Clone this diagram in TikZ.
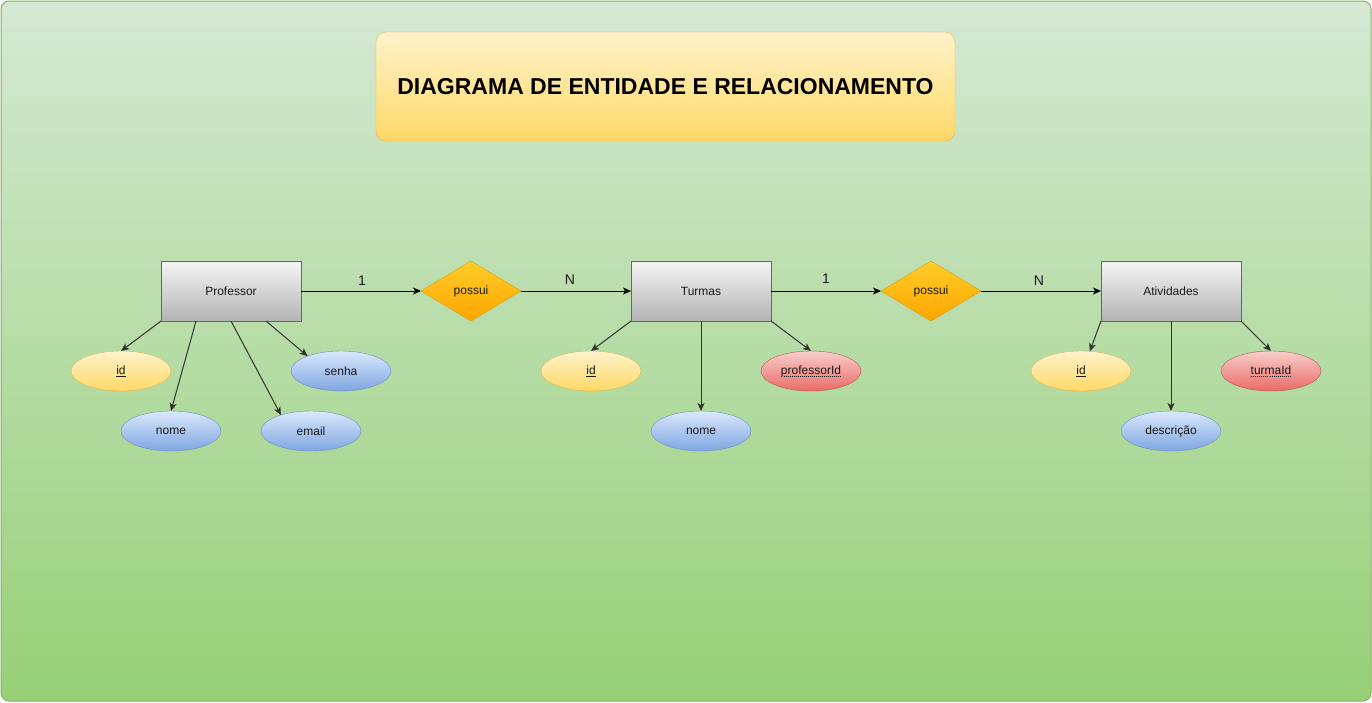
\documentclass[tikz,border=0pt]{standalone}
\usepackage{fontspec}
\setmainfont{Liberation Sans}
\usetikzlibrary{shapes.geometric,arrows.meta,calc}
\definecolor{bgtop}{HTML}{D5E8D4}
\definecolor{bgbot}{HTML}{97D077}
\definecolor{bgline}{HTML}{82B366}
\definecolor{yeltop}{HTML}{FFF2CC}
\definecolor{yelbot}{HTML}{FFD966}
\definecolor{yelline}{HTML}{D6B656}
\definecolor{graytop}{HTML}{F5F5F5}
\definecolor{graybot}{HTML}{B3B3B3}
\definecolor{grayline}{HTML}{666666}
\definecolor{orgtop}{HTML}{FFCD28}
\definecolor{orgbot}{HTML}{FFA500}
\definecolor{orgline}{HTML}{D79B00}
\definecolor{bluetop}{HTML}{DAE8FC}
\definecolor{bluebot}{HTML}{7EA6E0}
\definecolor{blueline}{HTML}{6C8EBF}
\definecolor{redtop}{HTML}{F8CECC}
\definecolor{redbot}{HTML}{EA6B66}
\definecolor{redline}{HTML}{B85450}
\definecolor{txt}{HTML}{1A1A1A}
\newcommand\dotund[1]{\setbox0\hbox{#1}\rlap{\raisebox{-2.2pt}{\hbox to \wd0{\xleaders\hbox to 2pt{\hss\rule{1pt}{0.7pt}\hss}\hfill}}}\box0}
\tikzset{
  entity/.style={draw=grayline, top color=graytop, bottom color=graybot, minimum width=140pt, minimum height=60pt, inner sep=0pt, outer sep=0pt, font=\fontsize{12}{14}\selectfont, text=txt},
  rel/.style={diamond, draw=orgline, top color=orgtop, bottom color=orgbot, minimum width=100pt, minimum height=60pt, aspect=1.667, inner sep=0pt, outer sep=0pt, font=\fontsize{12}{14}\selectfont, text=txt},
  attr/.style={ellipse, minimum width=100pt, minimum height=40pt, inner sep=0pt, outer sep=0pt, font=\fontsize{12}{14}\selectfont, text=txt},
  keyattr/.style={attr, draw=yelline, top color=yeltop, bottom color=yelbot},
  normattr/.style={attr, draw=blueline, top color=bluetop, bottom color=bluebot},
  fkattr/.style={attr, draw=redline, top color=redtop, bottom color=redbot},
  conn/.style={draw=black, line width=1pt, -{Stealth[length=8pt,width=7pt,inset=2pt]}},
  attconn/.style={draw=black!80, line width=1pt, -{Stealth[length=8pt,width=7pt,inset=2pt]}},
  card/.style={font=\fontsize{14}{16}\selectfont, text=txt, inner sep=0pt},
}
\begin{document}
\begin{tikzpicture}[x=1pt,y=-1pt]
\useasboundingbox (0,0) rectangle (1372,702);
\shade[top color=bgtop, bottom color=bgbot, rounded corners=8pt] (1,1) rectangle (1371,701);
\draw[bgline, line width=1pt, rounded corners=8pt] (1,1) rectangle (1371,701);
% title
\node[draw=yelline, top color=yeltop, bottom color=yelbot, rounded corners=10pt, minimum width=579pt, minimum height=109pt, inner sep=0pt, font=\fontsize{23}{27}\selectfont\bfseries] (title) at (665.5,86.5) {DIAGRAMA DE ENTIDADE E RELACIONAMENTO};
% entities
\node[entity] (prof) at (231,291) {Professor};
\node[entity] (turmas) at (701,291) {Turmas};
\node[entity] (ativ) at (1171,291) {Atividades};
% relationships
\node[rel] (pos1) at (471,291) {possui};
\node[rel] (pos2) at (931,291) {possui};
% attributes
\node[keyattr] (pid) at (121,371) {\underline{id}};
\node[normattr] (pnome) at (171,431) {nome};
\node[normattr] (pemail) at (311,431) {email};
\node[normattr] (psenha) at (341,371) {senha};
\node[keyattr] (tid) at (591,371) {\underline{id}};
\node[normattr] (tnome) at (701,431) {nome};
\node[fkattr] (tprof) at (811,371) {\dotund{professorId}};
\node[keyattr] (aid) at (1081,371) {\underline{id}};
\node[normattr] (adesc) at (1171,431) {descrição};
\node[fkattr] (aturma) at (1271,371) {\dotund{turmaId}};
% relationship connectors
\draw[conn] (prof.east) -- (pos1.west);
\draw[conn] (pos1.east) -- (turmas.west);
\draw[conn] (turmas.east) -- (pos2.west);
\draw[conn] (pos2.east) -- (ativ.west);
\node[card] (c1) at (362,281) {1};
\node[card] (c2) at (570,280) {N};
\node[card] (c3) at (826,278.5) {1};
\node[card] (c4) at (1039,280.5) {N};
% attribute connectors
\draw[attconn] (prof.south west) -- (pid.north);
\draw[attconn] ($(prof.south west)!0.25!(prof.south east)$) -- (pnome.north);
\draw[attconn] (prof.south) -- (pemail.152);
\draw[attconn] ($(prof.south west)!0.75!(prof.south east)$) -- (psenha.156);
\draw[attconn] (turmas.south west) -- (tid.north);
\draw[attconn] (turmas.south) -- (tnome.north);
\draw[attconn] (turmas.south east) -- (tprof.north);
\draw[attconn] (ativ.south west) -- (aid.66);
\draw[attconn] (ativ.south) -- (adesc.north);
\draw[attconn] (ativ.south east) -- (aturma.north);
\end{tikzpicture}
\end{document}
